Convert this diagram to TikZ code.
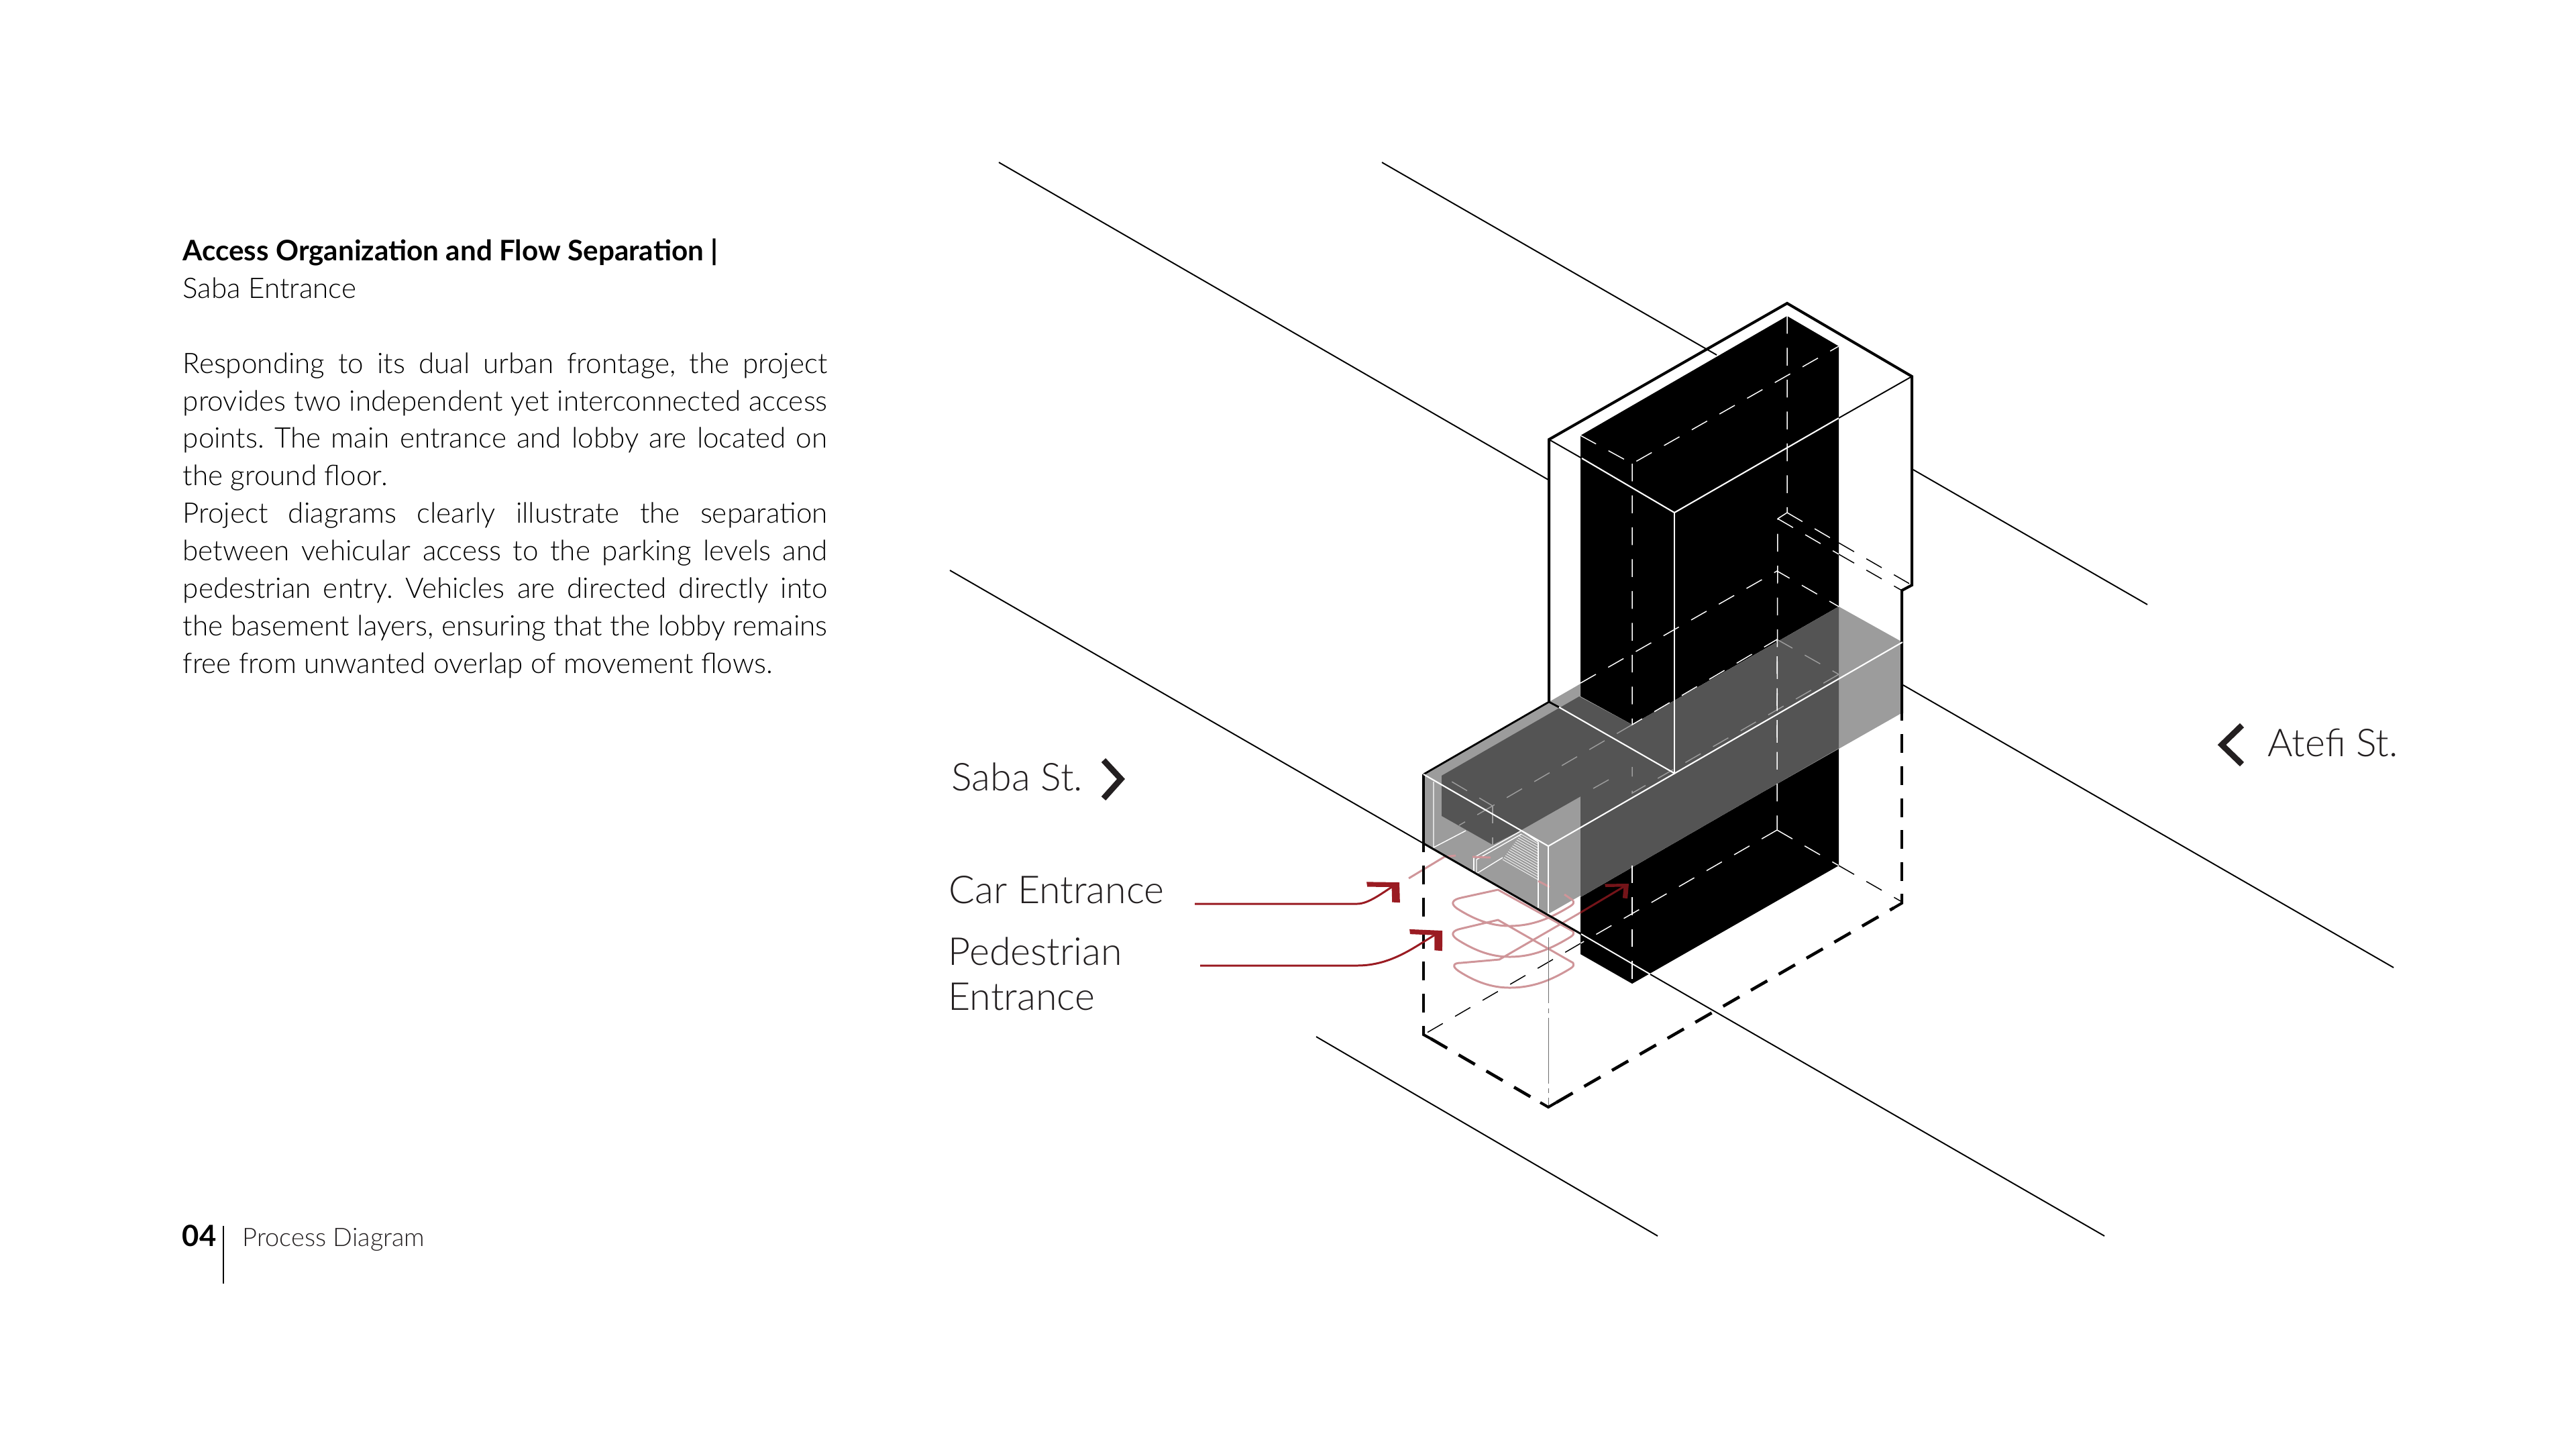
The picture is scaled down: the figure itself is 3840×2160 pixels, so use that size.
\documentclass[tikz,border=0pt]{standalone}
\usepackage{fontspec}
\setmainfont{Lato}[UprightFont=* Light,BoldFont=* Bold]
\usetikzlibrary{arrows.meta,positioning}
\definecolor{winggrey}{HTML}{9C9C9C}
\definecolor{wingdark}{HTML}{545454}
\definecolor{pathpink}{HTML}{CF9599}
\definecolor{arrowred}{HTML}{9A1B22}
\definecolor{labelblack}{HTML}{231F20}
\tikzset{
  road/.style={black,line width=.55pt},
  wall/.style={black,line width=1.15pt,line join=miter},
  walldash/.style={wall,line width=1.3pt,dash pattern=on 8pt off 5.6pt},
  edgewhite/.style={white,line width=.6pt},
  edgethin/.style={white,line width=.4pt},
  hiddenw/.style={white,line width=.42pt,dash pattern=on 7.5pt off 6pt},
  hiddenb/.style={black,line width=.42pt,dash pattern=on 7.5pt off 6pt},
  hiddeng/.style={winggrey,line width=.42pt,dash pattern=on 7.5pt off 6pt},
  pathline/.style={pathpink,line width=.85pt,line join=round},
  flow/.style={arrowred,line width=.85pt,-{Straight Barb[length=7pt,width=13pt,line width=2.6pt,slant=-.5]}},
  streetlabel/.style={anchor=base west,inner sep=0pt,font=\fontsize{16.3}{19}\selectfont,text=labelblack},
  chevron/.style={labelblack,line width=2.5pt,line join=miter}
}
\begin{document}
\frenchspacing
\begin{tikzpicture}[x=.01cm,y=-.01cm]
  \useasboundingbox (0,0) rectangle (3840,2160);

  % --- text column
  \node[anchor=north west,inner sep=0pt,text width=9.6cm,align=justify,
        font=\fontsize{12}{15.9}\selectfont,text=black] (intro) at (272,355)
    {\textbf{Access Organization and Flow Separation |}\\
     Saba Entrance\\[15.9pt]
     \hbox to 9.6cm{Responding to its dual urban frontage, the project}\\
     \hbox to 9.6cm{provides two independent yet interconnected access}\\
     \hbox to 9.6cm{points. The main entrance and lobby are located on}\\
     the ground floor.\\
     \hbox to 9.6cm{Project diagrams clearly illustrate the separation}\\
     \hbox to 9.6cm{between vehicular access to the parking levels and}\\
     \hbox to 9.6cm{pedestrian entry. Vehicles are directed directly into}\\
     \hbox to 9.6cm{the basement layers, ensuring that the lobby remains}\\
     free from unwanted overlap of movement flows.};

  \node[anchor=base west,inner sep=0pt,font=\fontsize{12.4}{15}\selectfont\bfseries] (pagenum) at (271,1857) {04};
  \node[anchor=base west,inner sep=0pt,font=\fontsize{10.8}{13}\selectfont,text=labelblack] (pagename) at (361,1857) {Process Diagram};
  \draw[black,line width=.5pt] (333,1827) -- (333,1913);

  % --- streets
  \draw[road] (1489,242) -- (2308,715);
  \draw[road] (2060,242) -- (2559,529);
  \draw[road] (2852,700) -- (3201,901);
  \draw[road] (2837,1021) -- (3568,1442);
  \draw[road] (1962,1545) -- (2471,1842);

  % --- black core, upper and lower part
  \fill[black] (2664,471) -- (2741,516) -- (2741,904) -- (2433,1080) -- (2356,1038) -- (2356,649) -- cycle;
  \fill[black] (2356,1337) -- (2741,1115) -- (2741,1290) -- (2433,1466) -- (2356,1422) -- cycle;

  % --- wing
  \fill[winggrey] (2122,1154) -- (2356,1019) -- (2356,1038) -- (2433,1080) -- (2741,904) -- (2836,957) -- (2836,1062) -- (2308,1362) -- (2122,1257) -- cycle;
  \fill[wingdark] (2149,1156) -- (2354,1038) -- (2433,1080) -- (2741,904) -- (2741,1115) -- (2356,1337) -- (2356,1187) -- (2268,1237) -- (2225,1259) -- (2149,1216) -- cycle;

  % --- ground floor, hidden lines
  \draw[hiddeng] (2741,1005) -- (2433,1182) -- (2433,1143);
  \draw[hiddeng] (2433,1080) -- (2225,1201) -- (2149,1156);
  \draw[hiddeng] (2225,1201) -- (2225,1259);
  \draw[hiddeng] (2649,953) -- (2741,1005);
  \draw[hiddeng] (2375,1175) -- (2400,1161) -- (2415,1170);
  \draw[hiddeng] (2225,1201) -- (2175,1230);

  % --- stair in the wing
  \draw[edgethin] (2137,1165) -- (2137,1263) -- (2185,1238);
  \draw[edgethin] (2293,1255) -- (2293,1353);
  \draw[edgethin] (2197,1278) -- (2268,1238) -- (2293,1255);
  \draw[edgethin] (2201,1281) -- (2268,1243);
  \draw[edgethin] (2197,1278) -- (2197,1298);
  \draw[edgethin] (2201,1281) -- (2201,1302) -- (2240,1278);
  \foreach \i in {0,...,13}
    \draw[white,line width=.22pt] ({2267-2.08*\i},{1243+2.92*\i}) -- (2292,{1243+2.92*\i+.57*(25+2.08*\i)});

  % --- pedestrian and car path
  \draw[pathline] (2100,1309) -- (2153,1277) -- (2170,1275);
  \draw[pathline] (2195,1277) -- (2222,1278);
  \draw[pathline] (2293,1313) -- (2310,1322);
  \draw[pathline] (2332,1333) -- (2345,1342);
  \draw[pathline]
    (2345,1342) .. controls (2346,1347) .. (2340,1351) .. controls (2312,1368) and (2285,1380) .. (2250,1380)
    .. controls (2225,1380) and (2200,1372) .. (2172,1354) .. controls (2162,1347) and (2164,1341) .. (2178,1338)
    -- (2233,1326) -- (2345,1388)
    .. controls (2346,1393) .. (2340,1397) .. controls (2312,1414) and (2285,1426) .. (2250,1426)
    .. controls (2225,1426) and (2200,1418) .. (2172,1400) .. controls (2162,1393) and (2164,1387) .. (2178,1384)
    -- (2233,1371) -- (2345,1435)
    .. controls (2346,1440) .. (2340,1444) .. controls (2312,1461) and (2285,1472) .. (2250,1472)
    .. controls (2225,1472) and (2200,1464) .. (2174,1447) .. controls (2164,1440) and (2166,1435) .. (2178,1435)
    -- (2235,1430) -- (2356,1360);

  % --- thin hidden lines of the footprint
  \draw[hiddenw] (2356,649) -- (2433,691) -- (2741,516);
  \draw[hiddenw] (2433,691) -- (2433,1080) -- (2649,953) -- (2649,1237);
  \draw[hiddenw] (2664,471) -- (2664,764) -- (2650,773) -- (2649,1110);
  \draw[hiddenw] (2664,764) -- (2741,809);
  \draw[hiddenw] (2650,773) -- (2741,826);
  \draw[hiddenb] (2741,809) -- (2850,872);
  \draw[hiddenb] (2741,826) -- (2835,880);
  \draw[hiddenw] (2356,1018) -- (2649,851) -- (2741,904);
  \draw[hiddenw] (2433,1290) -- (2433,1466);
  \draw[hiddenw] (2649,1237) -- (2356,1406);
  \draw[hiddenw] (2649,1237) -- (2741,1290);
  \draw[hiddenb] (2741,1290) -- (2835,1344);
  \draw[hiddenb] (2356,1406) -- (2122,1542);
  \draw[winggrey!70!black,line width=.25pt,dash pattern=on 28pt off 2pt on 2pt off 2pt] (2308,1397) -- (2308,1650);

  % --- lower street over the core
  \draw[road] (1416,850) -- (2122,1257);
  \draw[black,line width=.85pt] (2122,1257) -- (2357,1392);
  \draw[white,line width=.55pt] (2357,1392) -- (2460,1452);
  \draw[road] (2460,1452) -- (3137,1842);

  % --- building outline
  \draw[wall] (2309,1046) -- (2309,655) -- (2664,452) -- (2850,561) -- (2850,872) -- (2835,880) -- (2835,1063);
  \draw[black,line width=.8pt] (2324,1054) -- (2309,1046) -- (2122,1154);
  \draw[wall] (2122,1154) -- (2122,1257);
  \draw[walldash] (2122,1242) -- (2122,1530);
  \draw[walldash] (2133,1548) -- (2296,1643);
  \draw[walldash] (2320,1643) -- (2823,1353);
  \draw[walldash] (2835,1046) -- (2835,1332);
  \draw[wall] (2122,1530) -- (2122,1542) -- (2133,1548);
  \draw[wall] (2296,1643) -- (2308,1650) -- (2320,1643);
  \draw[wall] (2823,1353) -- (2835,1346) -- (2835,1332);
  \draw[black,line width=.55pt] (2309,655) -- (2358,683);
  \draw[white,line width=.6pt] (2358,683) -- (2496,764) -- (2741,623);
  \draw[black,line width=.55pt] (2741,623) -- (2850,561);

  % --- edges of the wing
  \draw[edgewhite] (2496,764) -- (2496,1153);
  \draw[edgewhite] (2324,1054) -- (2497,1153);
  \draw[edgewhite] (2122,1154) -- (2308,1261) -- (2836,957);
  \draw[edgewhite] (2308,1261) -- (2308,1362);

  % --- labels
  \node[streetlabel] (saba) at (1418,1178) {Saba St.};
  \node[streetlabel] (atefi) at (3380,1127) {Atefi St.};
  \node[streetlabel] (car) at (1414,1346) {Car Entrance};
  \node[streetlabel] (ped) at (1413,1438) {Pedestrian};
  \node[streetlabel] (pedb) at (1413,1505) {Entrance};
  \draw[chevron] (1645,1133) -- (1671,1161) -- (1645,1190);
  \draw[chevron] (3342,1081) -- (3312,1110) -- (3342,1139);

  % --- entrance arrows
  \coordinate (carstart) at (1781,1347);
  \coordinate (cartip) at (2086,1315);
  \coordinate (pedstart) at (1789,1439);
  \coordinate (pedtip) at (2150,1387);
  \coordinate (stairfoot) at (2356,1360);
  \coordinate (stairtip) at (2428,1317);
  \draw[flow] (carstart) -- (2023,1347) .. controls (2040,1347) and (2060,1331) .. (cartip);
  \draw[flow] (pedstart) -- (2023,1439) .. controls (2075,1439) and (2110,1410) .. (pedtip);
  \draw[flow,arrowred!75!black,-{Straight Barb[length=5.5pt,width=9pt,line width=1.6pt,slant=-.5]}] (stairfoot) -- (stairtip);
\end{tikzpicture}
\end{document}
